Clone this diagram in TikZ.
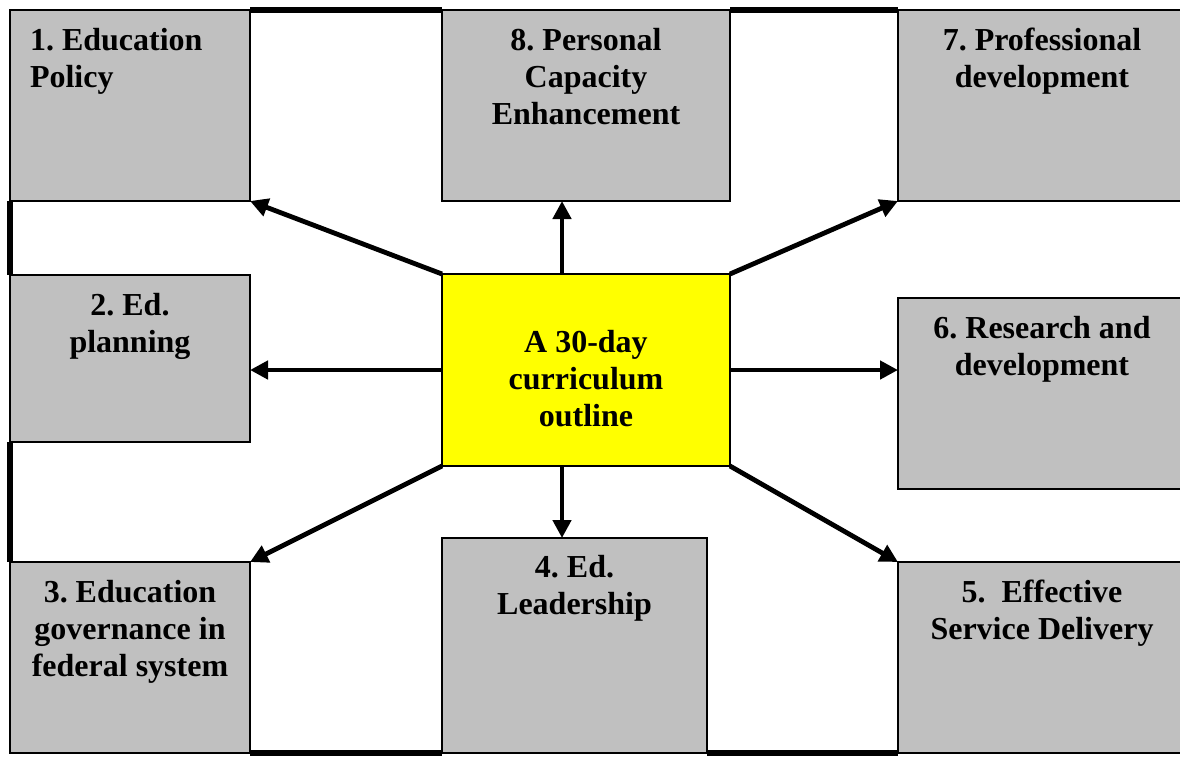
\documentclass[tikz,border=0pt]{standalone}
\usepackage{fontspec}
\setmainfont{Liberation Serif}
\usetikzlibrary{arrows.meta}
\definecolor{boxgrey}{HTML}{C0C0C0}
\definecolor{hubyellow}{HTML}{FFFF00}
\frenchspacing
\begin{document}
\begin{tikzpicture}[x=0.75pt,y=-0.75pt,
  box/.style={draw=black, line width=1pt, fill=boxgrey, inner sep=0pt, outer sep=0pt, anchor=north west},
  hub/.style={box, fill=hubyellow},
  lbl/.style={font=\bfseries\fontsize{24}{27.75}\selectfont\frenchspacing, align=center, inner sep=0pt, outer sep=0pt, anchor=north},
  arr/.style={line width=3.6pt, -{Triangle[length=13.5pt,width=13.5pt]}},
  rim/.style={line width=4pt},
]
\useasboundingbox (0,0) rectangle (1180,758);
% boxes
\node[box, minimum width=180pt, minimum height=143.25pt] (b1) at (10,10) {};
\node[box, minimum width=216pt, minimum height=143.25pt] (b8) at (442,10) {};
\node[box, minimum width=216pt, minimum height=143.25pt] (b7) at (898,10) {};
\node[box, minimum width=180pt, minimum height=125.25pt] (b2) at (10,275) {};
\node[hub, minimum width=216pt, minimum height=144pt] (c) at (442,274) {};
\node[box, minimum width=216pt, minimum height=143.25pt] (b6) at (898,298) {};
\node[box, minimum width=180pt, minimum height=143.25pt] (b3) at (10,562) {};
\node[box, minimum width=198.75pt, minimum height=161.25pt] (b4) at (442,538) {};
\node[box, minimum width=216pt, minimum height=143.25pt] (b5) at (898,562) {};
% frame segments between boxes
\draw[rim] (b1.north east) -- (b8.north west);
\draw[rim] (b8.north east) -- (b7.north west);
\draw[rim] (b1.south west) -- (b2.north west);
\draw[rim] (b2.south west) -- (b3.north west);
\draw[rim] (b3.south east) -- (b4.south west);
\draw[rim] (b4.south east) -- (b5.south west);
% labels
\node[lbl, anchor=north west, align=left] (t1) at (30,28.2) {1. Education\\Policy};
\node[lbl] (t8) at (586,28.2) {8. Personal\\Capacity\\Enhancement};
\node[lbl] (t7) at (1042,28.2) {7. Professional\\development};
\node[lbl] (t2) at (130,293.2) {2. Ed.\\planning};
\node[lbl] (tc) at (586,330.2) {A 30-day\\curriculum\\outline};
\node[lbl] (t6) at (1042,316.2) {6. Research and\\development};
\node[lbl] (t3) at (130,580.2) {3. Education\\governance in\\federal system};
\node[lbl] (t4) at (574.5,555.2) {4. Ed.\\Leadership};
\node[lbl] (t5) at (1042,580.2) {5.\ \ Effective\\Service Delivery};
% arrows
\draw[arr] (c.north west) -- (b1.south east);
\draw[arr] ([xshift=-18pt]c.north) -- ([xshift=-18pt]c.north |- b8.south);
\draw[arr] (c.north east) -- (b7.south west);
\draw[arr] (c.west) -- (c.west -| b2.east);
\draw[arr] (c.east) -- (c.east -| b6.west);
\draw[arr] (c.south west) -- (b3.north east);
\draw[arr] ([xshift=-18pt]c.south) -- ([xshift=-18pt]c.south |- b4.north);
\draw[arr] (c.south east) -- (b5.north west);
\end{tikzpicture}
\end{document}
